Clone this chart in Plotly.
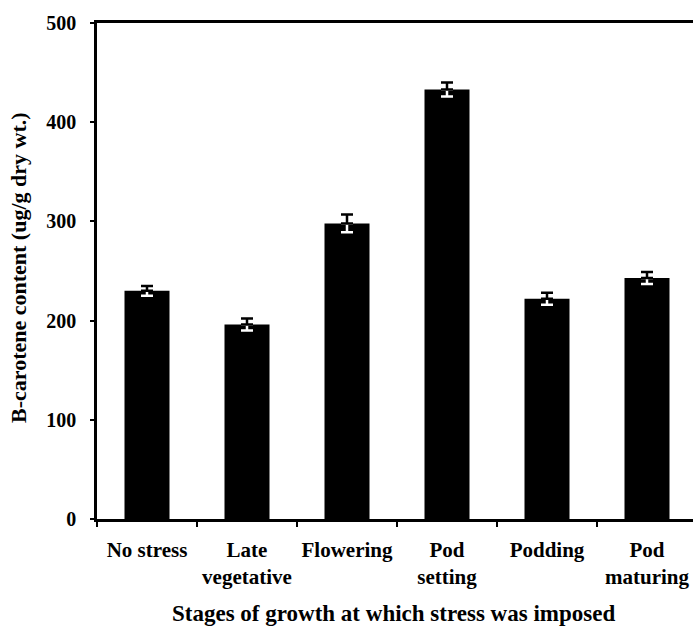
import plotly.graph_objects as go

# Growth stages at which stress was imposed
stages = ["No stress", "Late vegetative", "Flowering", "Pod setting", "Podding", "Pod maturing"]
stage_labels = ["No stress", "Late<br>vegetative", "Flowering", "Pod<br>setting", "Podding", "Pod<br>maturing"]

# B-carotene content (ug/g dry wt.) and standard errors
carotene = [230, 196, 298, 433, 222, 243]
carotene_err = [5, 6, 9, 7, 6, 6]

FONT = "Liberation Serif"
W, H = 693, 630
ML, MR, MT, MB = 97, 0, 23, 111
zeros = [0] * len(stages)

fig = go.Figure()

# Solid black bars
fig.add_trace(go.Bar(
    x=stages, y=carotene, width=0.45,
    marker=dict(color="black", line=dict(width=0)),
    showlegend=False, hoverinfo="skip",
))

# Lower half of each error bar, drawn in white across the bar
fig.add_trace(go.Scatter(
    x=stages, y=carotene, mode="markers",
    marker=dict(size=1, color="rgba(0,0,0,0)"),
    error_y=dict(type="data", symmetric=False, array=zeros, arrayminus=carotene_err,
                 color="white", thickness=2.5, width=6),
    showlegend=False, hoverinfo="skip",
))

# Upper half of each error bar, black above the bar
fig.add_trace(go.Scatter(
    x=stages, y=carotene, mode="markers",
    marker=dict(size=1, color="rgba(0,0,0,0)"),
    error_y=dict(type="data", symmetric=False, array=carotene_err, arrayminus=zeros,
                 color="black", thickness=2.5, width=6),
    showlegend=False, hoverinfo="skip",
))

plot_h = H - MT - MB
fig.update_layout(
    width=W, height=H,
    margin=dict(l=ML, r=MR, t=MT, b=MB),
    plot_bgcolor="white", paper_bgcolor="white",
    font=dict(family=FONT, color="black", weight="bold"),
    xaxis=dict(
        type="category",
        categoryorder="array", categoryarray=stages,
        tickvals=stages, ticktext=stage_labels,
        range=[-0.5, 5.46],
        automargin=False,
        tickangle=0,
        showline=True, linecolor="black", linewidth=2.5, mirror=True,
        ticks="outside", tickson="boundaries", ticklen=5, tickwidth=2, tickcolor="black",
        tickfont=dict(family=FONT, size=21, color="black", weight="bold"),
        ticklabelstandoff=10,
        showgrid=False, zeroline=False,
    ),
    yaxis=dict(
        range=[0, 500],
        tickvals=[0, 100, 200, 300, 400, 500],
        automargin=False,
        showline=True, linecolor="black", linewidth=2.5,
        ticks="outside", ticklen=4, tickwidth=2, tickcolor="black",
        tickfont=dict(family=FONT, size=20, color="black", weight="bold"),
        ticklabelstandoff=10,
        showgrid=False, zeroline=False,
    ),
    annotations=[
        dict(text="Stages of growth at which stress was imposed",
             xref="paper", yref="paper", x=(393 - ML) / (W - ML - MR),
             y=-(613 - (H - MB)) / plot_h,
             xanchor="center", yanchor="middle", showarrow=False,
             font=dict(family=FONT, size=23, color="black", weight="bold")),
        dict(text="B-carotene content (ug/g dry wt.)",
             xref="paper", yref="paper", x=-(ML - 18) / (W - ML - MR),
             y=((H - MB) - 268) / plot_h,
             xanchor="center", yanchor="middle", textangle=-90, showarrow=False,
             font=dict(family=FONT, size=22, color="black", weight="bold")),
    ],
)

fig.write_html("out.html")
